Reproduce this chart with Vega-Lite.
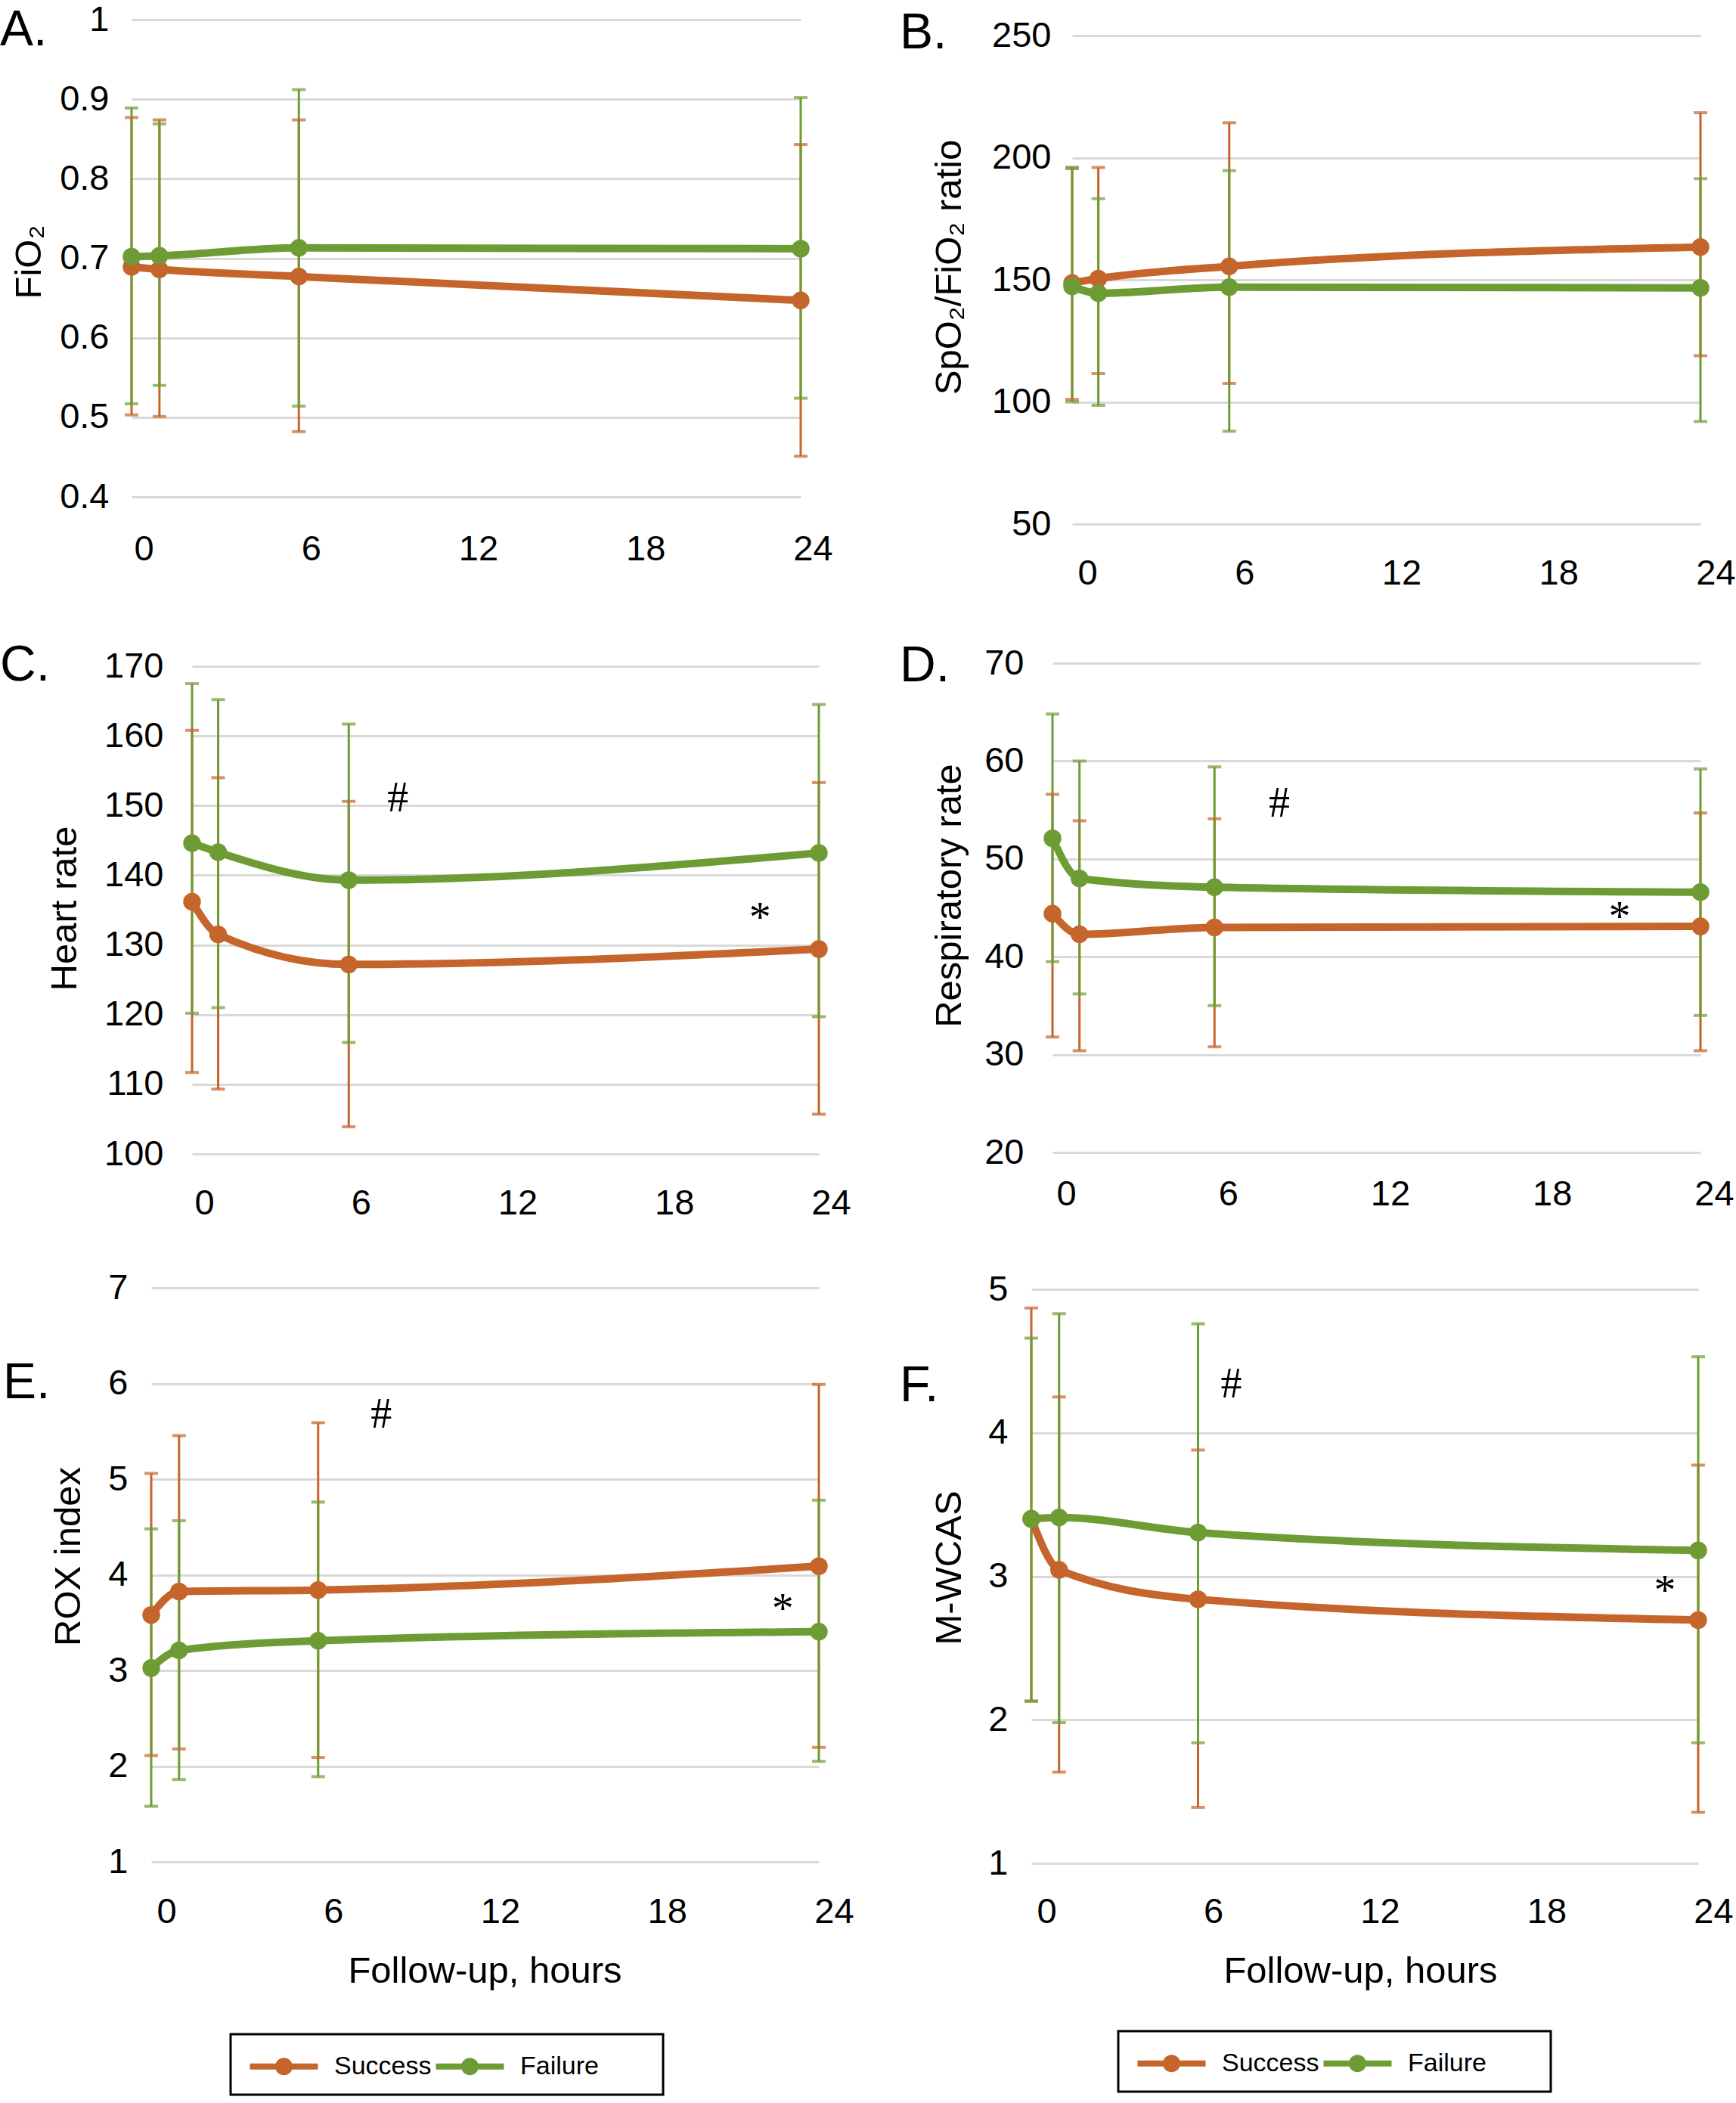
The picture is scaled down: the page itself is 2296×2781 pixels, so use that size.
{
  "$schema": "https://vega.github.io/schema/vega-lite/v6.json",
  "padding": 0,
  "background": "white",
  "columns": 2,
  "spacing": 0,
  "bounds": "flush",
  "datasets": {
    "d": [
      {"panel": "A", "group": "Success", "t": 0, "mean": 0.689, "lo": 0.503, "hi": 0.877},
      {"panel": "A", "group": "Success", "t": 1, "mean": 0.686, "lo": 0.501, "hi": 0.874},
      {"panel": "A", "group": "Success", "t": 6, "mean": 0.677, "lo": 0.482, "hi": 0.874},
      {"panel": "A", "group": "Success", "t": 24, "mean": 0.647, "lo": 0.451, "hi": 0.843},
      {"panel": "A", "group": "Failure", "t": 0, "mean": 0.702, "lo": 0.517, "hi": 0.889},
      {"panel": "A", "group": "Failure", "t": 1, "mean": 0.703, "lo": 0.540, "hi": 0.869},
      {"panel": "A", "group": "Failure", "t": 6, "mean": 0.713, "lo": 0.514, "hi": 0.912},
      {"panel": "A", "group": "Failure", "t": 24, "mean": 0.712, "lo": 0.524, "hi": 0.902},
      {"panel": "B", "group": "Success", "t": 0, "mean": 148.7, "lo": 101, "hi": 195.5},
      {"panel": "B", "group": "Success", "t": 1, "mean": 150.5, "lo": 111.6, "hi": 196},
      {"panel": "B", "group": "Success", "t": 6, "mean": 155.5, "lo": 107.6, "hi": 214.3},
      {"panel": "B", "group": "Success", "t": 24, "mean": 163.4, "lo": 118.9, "hi": 218.4},
      {"panel": "B", "group": "Failure", "t": 0, "mean": 147.3, "lo": 100, "hi": 196.1},
      {"panel": "B", "group": "Failure", "t": 1, "mean": 144.5, "lo": 98.6, "hi": 183.2},
      {"panel": "B", "group": "Failure", "t": 6, "mean": 147, "lo": 88, "hi": 194.7},
      {"panel": "B", "group": "Failure", "t": 24, "mean": 146.7, "lo": 92, "hi": 191.4},
      {"panel": "C", "group": "Success", "t": 0, "mean": 136.2, "lo": 111.7, "hi": 160.8},
      {"panel": "C", "group": "Success", "t": 1, "mean": 131.5, "lo": 109.3, "hi": 154.0},
      {"panel": "C", "group": "Success", "t": 6, "mean": 127.2, "lo": 103.9, "hi": 150.6},
      {"panel": "C", "group": "Success", "t": 24, "mean": 129.4, "lo": 105.7, "hi": 153.3},
      {"panel": "C", "group": "Failure", "t": 0, "mean": 144.6, "lo": 120.2, "hi": 167.5},
      {"panel": "C", "group": "Failure", "t": 1, "mean": 143.3, "lo": 121.0, "hi": 165.2},
      {"panel": "C", "group": "Failure", "t": 6, "mean": 139.3, "lo": 116.0, "hi": 161.7},
      {"panel": "C", "group": "Failure", "t": 24, "mean": 143.2, "lo": 119.7, "hi": 164.5},
      {"panel": "D", "group": "Success", "t": 0, "mean": 44.4, "lo": 31.8, "hi": 56.6},
      {"panel": "D", "group": "Success", "t": 1, "mean": 42.3, "lo": 30.4, "hi": 53.9},
      {"panel": "D", "group": "Success", "t": 6, "mean": 43.0, "lo": 30.8, "hi": 54.1},
      {"panel": "D", "group": "Success", "t": 24, "mean": 43.1, "lo": 30.4, "hi": 54.7},
      {"panel": "D", "group": "Failure", "t": 0, "mean": 52.1, "lo": 39.5, "hi": 64.8},
      {"panel": "D", "group": "Failure", "t": 1, "mean": 48.0, "lo": 36.2, "hi": 60.0},
      {"panel": "D", "group": "Failure", "t": 6, "mean": 47.1, "lo": 35.0, "hi": 59.4},
      {"panel": "D", "group": "Failure", "t": 24, "mean": 46.6, "lo": 34.0, "hi": 59.2},
      {"panel": "E", "group": "Success", "t": 0, "mean": 3.58, "lo": 2.11, "hi": 5.06},
      {"panel": "E", "group": "Success", "t": 1, "mean": 3.825, "lo": 2.18, "hi": 5.455},
      {"panel": "E", "group": "Success", "t": 6, "mean": 3.84, "lo": 2.09, "hi": 5.59},
      {"panel": "E", "group": "Success", "t": 24, "mean": 4.09, "lo": 2.195, "hi": 5.99},
      {"panel": "E", "group": "Failure", "t": 0, "mean": 3.025, "lo": 1.58, "hi": 4.48},
      {"panel": "E", "group": "Failure", "t": 1, "mean": 3.21, "lo": 1.86, "hi": 4.565},
      {"panel": "E", "group": "Failure", "t": 6, "mean": 3.31, "lo": 1.89, "hi": 4.76},
      {"panel": "E", "group": "Failure", "t": 24, "mean": 3.405, "lo": 2.05, "hi": 4.78},
      {"panel": "F", "group": "Success", "t": 0, "mean": 3.40, "lo": 2.13, "hi": 4.87},
      {"panel": "F", "group": "Success", "t": 1, "mean": 3.045, "lo": 1.635, "hi": 4.25},
      {"panel": "F", "group": "Success", "t": 6, "mean": 2.84, "lo": 1.39, "hi": 3.88},
      {"panel": "F", "group": "Success", "t": 24, "mean": 2.695, "lo": 1.355, "hi": 3.775},
      {"panel": "F", "group": "Failure", "t": 0, "mean": 3.40, "lo": 2.13, "hi": 4.66},
      {"panel": "F", "group": "Failure", "t": 1, "mean": 3.41, "lo": 1.98, "hi": 4.83},
      {"panel": "F", "group": "Failure", "t": 6, "mean": 3.305, "lo": 1.84, "hi": 4.76},
      {"panel": "F", "group": "Failure", "t": 24, "mean": 3.18, "lo": 1.84, "hi": 4.53}
    ],
    "ann": [
      {"panel": "C", "t": 7.88, "v": 151, "label": "#"},
      {"panel": "C", "t": 21.75, "v": 135, "label": "*"},
      {"panel": "D", "t": 8.4, "v": 55.6, "label": "#"},
      {"panel": "D", "t": 21.0, "v": 44.8, "label": "*"},
      {"panel": "E", "t": 8.27, "v": 5.67, "label": "#"},
      {"panel": "E", "t": 22.7, "v": 3.72, "label": "*"},
      {"panel": "F", "t": 7.2, "v": 4.335, "label": "#"},
      {"panel": "F", "t": 22.8, "v": 2.95, "label": "*"}
    ]
  },
  "concat": [
    {
      "width": 1148, "height": 657,
      "title": {"text": "A.", "dx": 0, "dy": 78},
      "data": {"name": "d"},
      "transform": [{"filter": "datum.panel === 'A'"}],
      "layer": [
        {"mark": {"type": "rule", "strokeWidth": 3},
         "encoding": {
           "x": {"field": "t", "type": "quantitative", "title": null, "scale": {"domain": [0, 24], "range": [174, 1059], "nice": false, "zero": false}, "axis": {"values": [0, 6, 12, 18, 24], "labelPadding": 69, "labelOffset": 16}},
           "y": {"field": "lo", "type": "quantitative", "title": "FiO₂", "scale": {"domain": [0.4, 1], "range": [657, 26], "nice": false, "zero": false}, "axis": {"values": [0.4, 0.5, 0.6, 0.7, 0.8, 0.9, 1], "format": "~g", "offset": -174, "labelPadding": 30, "titleX": -136, "titleY": 346}},
           "y2": {"field": "hi"},
           "color": {"field": "group", "type": "nominal", "scale": {"domain": ["Success", "Failure"], "range": ["#C5652B", "#6E9C34"]}, "legend": null}}},
        {"mark": {"type": "tick", "orient": "horizontal", "size": 18, "thickness": 4},
         "encoding": {"x": {"field": "t", "type": "quantitative", "title": null}, "y": {"field": "lo", "type": "quantitative", "title": "FiO₂"}, "color": {"field": "group", "type": "nominal", "legend": null}}},
        {"mark": {"type": "tick", "orient": "horizontal", "size": 18, "thickness": 4},
         "encoding": {"x": {"field": "t", "type": "quantitative", "title": null}, "y": {"field": "hi", "type": "quantitative", "title": "FiO₂"}, "color": {"field": "group", "type": "nominal", "legend": null}}},
        {"mark": {"type": "line", "strokeWidth": 10, "interpolate": "monotone"},
         "encoding": {"x": {"field": "t", "type": "quantitative", "title": null}, "y": {"field": "mean", "type": "quantitative", "title": "FiO₂"}, "color": {"field": "group", "type": "nominal", "legend": null}}},
        {"mark": {"type": "point", "filled": true, "size": 550, "opacity": 1, "strokeWidth": 0},
         "encoding": {"x": {"field": "t", "type": "quantitative", "title": null}, "y": {"field": "mean", "type": "quantitative", "title": "FiO₂"}, "color": {"field": "group", "type": "nominal", "legend": null}}}
      ]
    },
    {
      "width": 1148, "height": 693,
      "title": {"text": "B.", "dx": 42, "dy": 82},
      "data": {"name": "d"},
      "transform": [{"filter": "datum.panel === 'B'"}],
      "layer": [
        {"mark": {"type": "rule", "strokeWidth": 3},
         "encoding": {
           "x": {"field": "t", "type": "quantitative", "title": null, "scale": {"domain": [0, 24], "range": [270, 1101], "nice": false, "zero": false}, "axis": {"values": [0, 6, 12, 18, 24], "labelPadding": 65, "labelOffset": 20}},
           "y": {"field": "lo", "type": "quantitative", "title": "SpO₂/FiO₂ ratio", "scale": {"domain": [50, 250], "range": [693, 47], "nice": false, "zero": false}, "axis": {"values": [50, 100, 150, 200, 250], "offset": -270, "labelPadding": 28, "titleX": -163, "titleY": 353}},
           "y2": {"field": "hi"},
           "color": {"field": "group", "type": "nominal", "scale": {"domain": ["Success", "Failure"], "range": ["#C5652B", "#6E9C34"]}, "legend": null}}},
        {"mark": {"type": "tick", "orient": "horizontal", "size": 18, "thickness": 4},
         "encoding": {"x": {"field": "t", "type": "quantitative", "title": null}, "y": {"field": "lo", "type": "quantitative", "title": "SpO₂/FiO₂ ratio"}, "color": {"field": "group", "type": "nominal", "legend": null}}},
        {"mark": {"type": "tick", "orient": "horizontal", "size": 18, "thickness": 4},
         "encoding": {"x": {"field": "t", "type": "quantitative", "title": null}, "y": {"field": "hi", "type": "quantitative", "title": "SpO₂/FiO₂ ratio"}, "color": {"field": "group", "type": "nominal", "legend": null}}},
        {"mark": {"type": "line", "strokeWidth": 10, "interpolate": "monotone"},
         "encoding": {"x": {"field": "t", "type": "quantitative", "title": null}, "y": {"field": "mean", "type": "quantitative", "title": "SpO₂/FiO₂ ratio"}, "color": {"field": "group", "type": "nominal", "legend": null}}},
        {"mark": {"type": "point", "filled": true, "size": 550, "opacity": 1, "strokeWidth": 0},
         "encoding": {"x": {"field": "t", "type": "quantitative", "title": null}, "y": {"field": "mean", "type": "quantitative", "title": "SpO₂/FiO₂ ratio"}, "color": {"field": "group", "type": "nominal", "legend": null}}}
      ]
    },
    {
      "width": 1148, "height": 833,
      "title": {"text": "C.", "dx": 0, "dy": 225},
      "data": {"name": "d"},
      "transform": [{"filter": "datum.panel === 'C'"}],
      "layer": [
        {"mark": {"type": "rule", "strokeWidth": 3},
         "encoding": {
           "x": {"field": "t", "type": "quantitative", "title": null, "scale": {"domain": [0, 24], "range": [254, 1083], "nice": false, "zero": false}, "axis": {"values": [0, 6, 12, 18, 24], "labelPadding": 65, "labelOffset": 16}},
           "y": {"field": "lo", "type": "quantitative", "title": "Heart rate", "scale": {"domain": [100, 170], "range": [833, 188], "nice": false, "zero": false}, "axis": {"values": [100, 110, 120, 130, 140, 150, 160, 170], "offset": -254, "labelPadding": 38, "titleX": -169, "titleY": 508}},
           "y2": {"field": "hi"},
           "color": {"field": "group", "type": "nominal", "scale": {"domain": ["Success", "Failure"], "range": ["#C5652B", "#6E9C34"]}, "legend": null}}},
        {"mark": {"type": "tick", "orient": "horizontal", "size": 18, "thickness": 4},
         "encoding": {"x": {"field": "t", "type": "quantitative", "title": null}, "y": {"field": "lo", "type": "quantitative", "title": "Heart rate"}, "color": {"field": "group", "type": "nominal", "legend": null}}},
        {"mark": {"type": "tick", "orient": "horizontal", "size": 18, "thickness": 4},
         "encoding": {"x": {"field": "t", "type": "quantitative", "title": null}, "y": {"field": "hi", "type": "quantitative", "title": "Heart rate"}, "color": {"field": "group", "type": "nominal", "legend": null}}},
        {"mark": {"type": "line", "strokeWidth": 10, "interpolate": "monotone"},
         "encoding": {"x": {"field": "t", "type": "quantitative", "title": null}, "y": {"field": "mean", "type": "quantitative", "title": "Heart rate"}, "color": {"field": "group", "type": "nominal", "legend": null}}},
        {"mark": {"type": "point", "filled": true, "size": 550, "opacity": 1, "strokeWidth": 0},
         "encoding": {"x": {"field": "t", "type": "quantitative", "title": null}, "y": {"field": "mean", "type": "quantitative", "title": "Heart rate"}, "color": {"field": "group", "type": "nominal", "legend": null}}},
        {"data": {"name": "ann"}, "transform": [{"filter": "datum.panel === 'C' && datum.label === '#'"}],
         "mark": {"type": "text", "font": "Liberation Serif", "fontSize": 56, "color": "#000", "align": "center", "baseline": "middle"},
         "encoding": {"x": {"field": "t", "type": "quantitative", "title": null}, "y": {"field": "v", "type": "quantitative", "title": "Heart rate"}, "text": {"field": "label"}}},
        {"data": {"name": "ann"}, "transform": [{"filter": "datum.panel === 'C' && datum.label === '*'"}],
         "mark": {"type": "text", "font": "Liberation Serif", "fontSize": 58, "color": "#000", "align": "center", "baseline": "middle", "dy": 11},
         "encoding": {"x": {"field": "t", "type": "quantitative", "title": null}, "y": {"field": "v", "type": "quantitative", "title": "Heart rate"}, "text": {"field": "label"}}}
      ]
    },
    {
      "width": 1148, "height": 831,
      "title": {"text": "D.", "dx": 42, "dy": 226},
      "data": {"name": "d"},
      "transform": [{"filter": "datum.panel === 'D'"}],
      "layer": [
        {"mark": {"type": "rule", "strokeWidth": 3},
         "encoding": {
           "x": {"field": "t", "type": "quantitative", "title": null, "scale": {"domain": [0, 24], "range": [244, 1101], "nice": false, "zero": false}, "axis": {"values": [0, 6, 12, 18, 24], "labelPadding": 55, "labelOffset": 18}},
           "y": {"field": "lo", "type": "quantitative", "title": "Respiratory rate", "scale": {"domain": [20, 70], "range": [831, 184], "nice": false, "zero": false}, "axis": {"values": [20, 30, 40, 50, 60, 70], "offset": -244, "labelPadding": 38, "titleX": -137, "titleY": 491}},
           "y2": {"field": "hi"},
           "color": {"field": "group", "type": "nominal", "scale": {"domain": ["Success", "Failure"], "range": ["#C5652B", "#6E9C34"]}, "legend": null}}},
        {"mark": {"type": "tick", "orient": "horizontal", "size": 18, "thickness": 4},
         "encoding": {"x": {"field": "t", "type": "quantitative", "title": null}, "y": {"field": "lo", "type": "quantitative", "title": "Respiratory rate"}, "color": {"field": "group", "type": "nominal", "legend": null}}},
        {"mark": {"type": "tick", "orient": "horizontal", "size": 18, "thickness": 4},
         "encoding": {"x": {"field": "t", "type": "quantitative", "title": null}, "y": {"field": "hi", "type": "quantitative", "title": "Respiratory rate"}, "color": {"field": "group", "type": "nominal", "legend": null}}},
        {"mark": {"type": "line", "strokeWidth": 10, "interpolate": "monotone"},
         "encoding": {"x": {"field": "t", "type": "quantitative", "title": null}, "y": {"field": "mean", "type": "quantitative", "title": "Respiratory rate"}, "color": {"field": "group", "type": "nominal", "legend": null}}},
        {"mark": {"type": "point", "filled": true, "size": 550, "opacity": 1, "strokeWidth": 0},
         "encoding": {"x": {"field": "t", "type": "quantitative", "title": null}, "y": {"field": "mean", "type": "quantitative", "title": "Respiratory rate"}, "color": {"field": "group", "type": "nominal", "legend": null}}},
        {"data": {"name": "ann"}, "transform": [{"filter": "datum.panel === 'D' && datum.label === '#'"}],
         "mark": {"type": "text", "font": "Liberation Serif", "fontSize": 56, "color": "#000", "align": "center", "baseline": "middle"},
         "encoding": {"x": {"field": "t", "type": "quantitative", "title": null}, "y": {"field": "v", "type": "quantitative", "title": "Respiratory rate"}, "text": {"field": "label"}}},
        {"data": {"name": "ann"}, "transform": [{"filter": "datum.panel === 'D' && datum.label === '*'"}],
         "mark": {"type": "text", "font": "Liberation Serif", "fontSize": 58, "color": "#000", "align": "center", "baseline": "middle", "dy": 11},
         "encoding": {"x": {"field": "t", "type": "quantitative", "title": null}, "y": {"field": "v", "type": "quantitative", "title": "Respiratory rate"}, "text": {"field": "label"}}}
      ]
    },
    {
      "width": 1148, "height": 936,
      "title": {"text": "E.", "dx": 4, "dy": 341},
      "data": {"name": "d"},
      "transform": [{"filter": "datum.panel === 'E'"}],
      "layer": [
        {"mark": {"type": "rule", "strokeWidth": 3},
         "encoding": {
           "x": {"field": "t", "type": "quantitative", "title": "Follow-up, hours", "scale": {"domain": [0, 24], "range": [200, 1083], "nice": false, "zero": false}, "axis": {"values": [0, 6, 12, 18, 24], "labelPadding": 66, "labelOffset": 20, "titleX": 641, "titleY": 144}},
           "y": {"field": "lo", "type": "quantitative", "title": "ROX index", "scale": {"domain": [1, 7], "range": [936, 177], "nice": false, "zero": false}, "axis": {"values": [1, 2, 3, 4, 5, 6, 7], "format": "d", "offset": -200, "labelPadding": 31, "titleX": -110, "titleY": 532}},
           "y2": {"field": "hi"},
           "color": {"field": "group", "type": "nominal", "scale": {"domain": ["Success", "Failure"], "range": ["#C5652B", "#6E9C34"]}, "legend": null}}},
        {"mark": {"type": "tick", "orient": "horizontal", "size": 18, "thickness": 4},
         "encoding": {"x": {"field": "t", "type": "quantitative", "title": "Follow-up, hours"}, "y": {"field": "lo", "type": "quantitative", "title": "ROX index"}, "color": {"field": "group", "type": "nominal", "legend": null}}},
        {"mark": {"type": "tick", "orient": "horizontal", "size": 18, "thickness": 4},
         "encoding": {"x": {"field": "t", "type": "quantitative", "title": "Follow-up, hours"}, "y": {"field": "hi", "type": "quantitative", "title": "ROX index"}, "color": {"field": "group", "type": "nominal", "legend": null}}},
        {"mark": {"type": "line", "strokeWidth": 10, "interpolate": "monotone"},
         "encoding": {"x": {"field": "t", "type": "quantitative", "title": "Follow-up, hours"}, "y": {"field": "mean", "type": "quantitative", "title": "ROX index"}, "color": {"field": "group", "type": "nominal", "legend": null}}},
        {"mark": {"type": "point", "filled": true, "size": 550, "opacity": 1, "strokeWidth": 0},
         "encoding": {"x": {"field": "t", "type": "quantitative", "title": "Follow-up, hours"}, "y": {"field": "mean", "type": "quantitative", "title": "ROX index"},
           "fill": {"field": "group", "type": "nominal", "scale": {"domain": ["Success", "Failure"], "range": ["#C5652B", "#6E9C34"]},
             "legend": {"orient": "none", "legendX": 305, "legendY": 1164, "direction": "horizontal", "title": " ", "titleOrient": "right", "titlePadding": 65, "titleFontSize": 34,
               "symbolType": "M-0.756,-0.178H3.244V0.178H-0.756Z M1.755,0A0.511,0.511 0 1 1 0.733,0A0.511,0.511 0 1 1 1.755,0Z",
               "symbolSize": 2025, "symbolStrokeWidth": 0, "symbolOpacity": 1, "labelFont": "Liberation Sans", "labelFontSize": 34, "labelColor": "#000", "labelOffset": 72, "columnPadding": 0, "padding": 20, "strokeColor": "#000", "labelLimit": 400,
               "encode": {"legend": {"update": {"strokeWidth": {"value": 3}}}}}}}},
        {"data": {"name": "ann"}, "transform": [{"filter": "datum.panel === 'E' && datum.label === '#'"}],
         "mark": {"type": "text", "font": "Liberation Serif", "fontSize": 56, "color": "#000", "align": "center", "baseline": "middle"},
         "encoding": {"x": {"field": "t", "type": "quantitative", "title": "Follow-up, hours"}, "y": {"field": "v", "type": "quantitative", "title": "ROX index"}, "text": {"field": "label"}}},
        {"data": {"name": "ann"}, "transform": [{"filter": "datum.panel === 'E' && datum.label === '*'"}],
         "mark": {"type": "text", "font": "Liberation Serif", "fontSize": 58, "color": "#000", "align": "center", "baseline": "middle", "dy": 11},
         "encoding": {"x": {"field": "t", "type": "quantitative", "title": "Follow-up, hours"}, "y": {"field": "v", "type": "quantitative", "title": "ROX index"}, "text": {"field": "label"}}}
      ]
    },
    {
      "width": 1148, "height": 938,
      "title": {"text": "F.", "dx": 42, "dy": 345},
      "data": {"name": "d"},
      "transform": [{"filter": "datum.panel === 'F'"}],
      "layer": [
        {"mark": {"type": "rule", "strokeWidth": 3},
         "encoding": {
           "x": {"field": "t", "type": "quantitative", "title": "Follow-up, hours", "scale": {"domain": [0, 24], "range": [216, 1098], "nice": false, "zero": false}, "axis": {"values": [0, 6, 12, 18, 24], "labelPadding": 64, "labelOffset": 20, "titleX": 651, "titleY": 142}},
           "y": {"field": "lo", "type": "quantitative", "title": "M-WCAS", "scale": {"domain": [1, 5], "range": [938, 179], "nice": false, "zero": false}, "axis": {"values": [1, 2, 3, 4, 5], "format": "d", "offset": -216, "labelPadding": 31, "titleX": -109, "titleY": 547}},
           "y2": {"field": "hi"},
           "color": {"field": "group", "type": "nominal", "scale": {"domain": ["Success", "Failure"], "range": ["#C5652B", "#6E9C34"]}, "legend": null}}},
        {"mark": {"type": "tick", "orient": "horizontal", "size": 18, "thickness": 4},
         "encoding": {"x": {"field": "t", "type": "quantitative", "title": "Follow-up, hours"}, "y": {"field": "lo", "type": "quantitative", "title": "M-WCAS"}, "color": {"field": "group", "type": "nominal", "legend": null}}},
        {"mark": {"type": "tick", "orient": "horizontal", "size": 18, "thickness": 4},
         "encoding": {"x": {"field": "t", "type": "quantitative", "title": "Follow-up, hours"}, "y": {"field": "hi", "type": "quantitative", "title": "M-WCAS"}, "color": {"field": "group", "type": "nominal", "legend": null}}},
        {"mark": {"type": "line", "strokeWidth": 10, "interpolate": "monotone"},
         "encoding": {"x": {"field": "t", "type": "quantitative", "title": "Follow-up, hours"}, "y": {"field": "mean", "type": "quantitative", "title": "M-WCAS"}, "color": {"field": "group", "type": "nominal", "legend": null}}},
        {"mark": {"type": "point", "filled": true, "size": 550, "opacity": 1, "strokeWidth": 0},
         "encoding": {"x": {"field": "t", "type": "quantitative", "title": "Follow-up, hours"}, "y": {"field": "mean", "type": "quantitative", "title": "M-WCAS"},
           "fill": {"field": "group", "type": "nominal", "scale": {"domain": ["Success", "Failure"], "range": ["#C5652B", "#6E9C34"]},
             "legend": {"orient": "none", "legendX": 331, "legendY": 1160, "direction": "horizontal", "title": " ", "titleOrient": "right", "titlePadding": 65, "titleFontSize": 34,
               "symbolType": "M-0.756,-0.178H3.244V0.178H-0.756Z M1.755,0A0.511,0.511 0 1 1 0.733,0A0.511,0.511 0 1 1 1.755,0Z",
               "symbolSize": 2025, "symbolStrokeWidth": 0, "symbolOpacity": 1, "labelFont": "Liberation Sans", "labelFontSize": 34, "labelColor": "#000", "labelOffset": 72, "columnPadding": 0, "padding": 20, "strokeColor": "#000", "labelLimit": 400,
               "encode": {"legend": {"update": {"strokeWidth": {"value": 3}}}}}}}},
        {"data": {"name": "ann"}, "transform": [{"filter": "datum.panel === 'F' && datum.label === '#'"}],
         "mark": {"type": "text", "font": "Liberation Serif", "fontSize": 56, "color": "#000", "align": "center", "baseline": "middle"},
         "encoding": {"x": {"field": "t", "type": "quantitative", "title": "Follow-up, hours"}, "y": {"field": "v", "type": "quantitative", "title": "M-WCAS"}, "text": {"field": "label"}}},
        {"data": {"name": "ann"}, "transform": [{"filter": "datum.panel === 'F' && datum.label === '*'"}],
         "mark": {"type": "text", "font": "Liberation Serif", "fontSize": 58, "color": "#000", "align": "center", "baseline": "middle", "dy": 11},
         "encoding": {"x": {"field": "t", "type": "quantitative", "title": "Follow-up, hours"}, "y": {"field": "v", "type": "quantitative", "title": "M-WCAS"}, "text": {"field": "label"}}}
      ]
    }
  ],
  "resolve": {"scale": {"x": "independent", "y": "independent", "fill": "independent"}, "legend": {"fill": "independent"}},
  "config": {
    "view": {"stroke": null},
    "font": "Liberation Sans",
    "axis": {"domain": false, "ticks": false, "tickSize": 0, "labelFont": "Liberation Sans", "labelFontSize": 47, "labelColor": "#000", "labelFlush": false, "labelOverlap": false, "titleFont": "Liberation Sans", "titleFontSize": 49, "titleFontWeight": "normal", "titleColor": "#000", "gridColor": "#D9D9D9", "gridWidth": 3},
    "axisX": {"grid": false, "labelBaseline": "middle", "labelAlign": "center", "titleBaseline": "middle", "titleAlign": "center"},
    "axisY": {"grid": true, "labelBaseline": "middle", "labelAlign": "right", "titleBaseline": "middle", "titleAlign": "center", "titleAngle": -90},
    "title": {"font": "Liberation Sans", "fontSize": 66, "fontWeight": "normal", "color": "#000", "anchor": "start", "frame": "group", "offset": 0, "baseline": "top", "orient": "top"}
  }
}
